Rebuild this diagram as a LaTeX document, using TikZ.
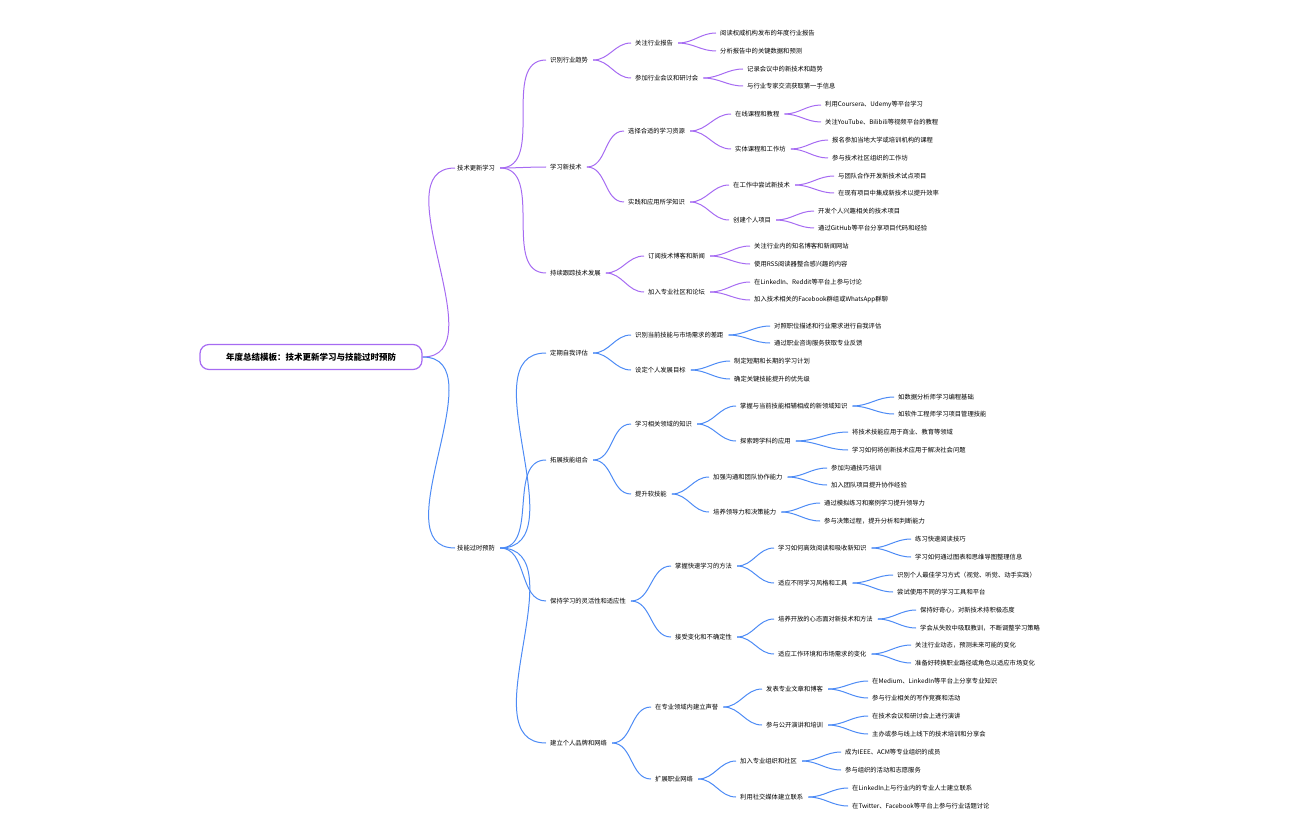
\documentclass[tikz,border=0pt]{standalone}
\usepackage{fontspec}
\setmainfont{Noto Sans CJK SC}
\usepackage{tikz}
\definecolor{upc}{HTML}{A66BF2}
\definecolor{loc}{HTML}{4D8BF5}
\tikzset{
  t/.style={anchor=west,inner sep=2pt,font=\fontsize{6.3}{7}\selectfont},
  pl/.style={upc,line width=1pt},
  bl/.style={loc,line width=1pt},
}
\begin{document}
\begin{tikzpicture}[x=1pt,y=-1pt]
  \useasboundingbox (0,0) rectangle (1296,840);
  \node[draw=upc,line width=1.2pt,rounded corners=9pt,minimum width=222pt,minimum height=25pt,
    font=\fontsize{8.5}{10}\selectfont\bfseries] (r) at (311,357) {年度总结模板：技术更新学习与技能过时预防};

  % level 1
  \node[t] (a) at (455,168) {技术更新学习};
  \node[t] (b) at (455,548) {技能过时预防};

  % level 2
  \node[t] (a1) at (548,60) {识别行业趋势};
  \node[t] (a2) at (548,167) {学习新技术};
  \node[t] (a3) at (548,273) {持续跟踪技术发展};
  \node[t] (b1) at (548,353) {定期自我评估};
  \node[t] (b2) at (548,460) {拓展技能组合};
  \node[t] (b3) at (548,601) {保持学习的灵活性和适应性};
  \node[t] (b4) at (548,743) {建立个人品牌和网络};

  % level 3
  \node[t] (a11) at (633,43) {关注行业报告};
  \node[t] (a12) at (633,78) {参加行业会议和研讨会};
  \node[t] (a21) at (626,131) {选择合适的学习资源};
  \node[t] (a22) at (626,202) {实践和应用所学知识};
  \node[t] (a31) at (646,256) {订阅技术博客和新闻};
  \node[t] (a32) at (646,292) {加入专业社区和论坛};
  \node[t] (b11) at (633,335) {识别当前技能与市场需求的差距};
  \node[t] (b12) at (633,370) {设定个人发展目标};
  \node[t] (b21) at (633,424) {学习相关领域的知识};
  \node[t] (b22) at (633,494) {提升软技能};
  \node[t] (b31) at (673,566) {掌握快速学习的方法};
  \node[t] (b32) at (673,637) {接受变化和不确定性};
  \node[t] (b41) at (653,707) {在专业领域内建立声誉};
  \node[t] (b42) at (653,779) {扩展职业网络};

  % level 4
  \node[t] (a211) at (733,114) {在线课程和教程};
  \node[t] (a212) at (733,149) {实体课程和工作坊};
  \node[t] (a221) at (731,185) {在工作中尝试新技术};
  \node[t] (a222) at (731,220) {创建个人项目};
  \node[t] (b211) at (738,406) {掌握与当前技能相辅相成的新领域知识};
  \node[t] (b212) at (738,441) {探索跨学科的应用};
  \node[t] (b221) at (711,477) {加强沟通和团队协作能力};
  \node[t] (b222) at (711,512) {培养领导力和决策能力};
  \node[t] (b311) at (776,548) {学习如何高效阅读和吸收新知识};
  \node[t] (b312) at (776,583) {适应不同学习风格和工具};
  \node[t] (b321) at (776,619) {培养开放的心态面对新技术和方法};
  \node[t] (b322) at (776,654) {适应工作环境和市场需求的变化};
  \node[t] (b411) at (764,689) {发表专业文章和博客};
  \node[t] (b412) at (764,725) {参与公开演讲和培训};
  \node[t] (b421) at (738,761) {加入专业组织和社区};
  \node[t] (b422) at (738,797) {利用社交媒体建立联系};

  % leaves
  \node[t] (a111) at (718,33) {阅读权威机构发布的年度行业报告};
  \node[t] (a112) at (718,51) {分析报告中的关键数据和预测};
  \node[t] (a121) at (745,69) {记录会议中的新技术和趋势};
  \node[t] (a122) at (745,86) {与行业专家交流获取第一手信息};
  \node[t] (a2111) at (823,105) {利用Coursera、Udemy等平台学习};
  \node[t] (a2112) at (823,122) {关注YouTube、Bilibili等视频平台的教程};
  \node[t] (a2121) at (830,140) {报名参加当地大学或培训机构的课程};
  \node[t] (a2122) at (830,158) {参与技术社区组织的工作坊};
  \node[t] (a2211) at (836,176) {与团队合作开发新技术试点项目};
  \node[t] (a2212) at (836,193) {在现有项目中集成新技术以提升效率};
  \node[t] (a2221) at (816,211) {开发个人兴趣相关的技术项目};
  \node[t] (a2222) at (816,228) {通过GitHub等平台分享项目代码和经验};
  \node[t] (a311) at (752,246) {关注行业内的知名博客和新闻网站};
  \node[t] (a312) at (752,264) {使用RSS阅读器整合感兴趣的内容};
  \node[t] (a321) at (752,282) {在LinkedIn、Reddit等平台上参与讨论};
  \node[t] (a322) at (752,300) {加入技术相关的Facebook群组或WhatsApp群聊};
  \node[t] (b111) at (772,326) {对照职位描述和行业需求进行自我评估};
  \node[t] (b112) at (772,343) {通过职业咨询服务获取专业反馈};
  \node[t] (b121) at (732,361) {制定短期和长期的学习计划};
  \node[t] (b122) at (732,379) {确定关键技能提升的优先级};
  \node[t] (b2111) at (896,397) {如数据分析师学习编程基础};
  \node[t] (b2112) at (896,414) {如软件工程师学习项目管理技能};
  \node[t] (b2121) at (850,432) {将技术技能应用于商业、教育等领域};
  \node[t] (b2122) at (850,450) {学习如何将创新技术应用于解决社会问题};
  \node[t] (b2211) at (829,468) {参加沟通技巧培训};
  \node[t] (b2212) at (829,485) {加入团队项目提升协作经验};
  \node[t] (b2221) at (822,503) {通过模拟练习和案例学习提升领导力};
  \node[t] (b2222) at (822,521) {参与决策过程，提升分析和判断能力};
  \node[t] (b3111) at (913,539) {练习快速阅读技巧};
  \node[t] (b3112) at (913,557) {学习如何通过图表和思维导图整理信息};
  \node[t] (b3121) at (895,575) {识别个人最佳学习方式（视觉、听觉、动手实践）};
  \node[t] (b3122) at (895,592) {尝试使用不同的学习工具和平台};
  \node[t] (b3211) at (918,610) {保持好奇心，对新技术持积极态度};
  \node[t] (b3212) at (918,628) {学会从失败中吸取教训，不断调整学习策略};
  \node[t] (b3221) at (913,645) {关注行业动态，预测未来可能的变化};
  \node[t] (b3222) at (913,663) {准备好转换职业路径或角色以适应市场变化};
  \node[t] (b4111) at (870,681) {在Medium、LinkedIn等平台上分享专业知识};
  \node[t] (b4112) at (870,698) {参与行业相关的写作竞赛和活动};
  \node[t] (b4121) at (870,716) {在技术会议和研讨会上进行演讲};
  \node[t] (b4122) at (870,734) {主办或参与线上线下的技术培训和分享会};
  \node[t] (b4211) at (843,752) {成为IEEE、ACM等专业组织的成员};
  \node[t] (b4212) at (843,770) {参与组织的活动和志愿服务};
  \node[t] (b4221) at (850,788) {在LinkedIn上与行业内的专业人士建立联系};
  \node[t] (b4222) at (850,806) {在Twitter、Facebook等平台上参与行业话题讨论};

  % connectors
  \draw[pl] (r.east) to[out=0,in=180] (a.west);
  \draw[bl] (r.east) to[out=0,in=180] (b.west);
  \foreach \p/\c in {a/a1,a/a2,a/a3,a1/a11,a1/a12,a2/a21,a2/a22,a3/a31,a3/a32,
      a11/a111,a11/a112,a12/a121,a12/a122,a21/a211,a21/a212,a22/a221,a22/a222,
      a211/a2111,a211/a2112,a212/a2121,a212/a2122,a221/a2211,a221/a2212,
      a222/a2221,a222/a2222,a31/a311,a31/a312,a32/a321,a32/a322}
    \draw[pl] ([xshift=3pt]\p.east) to[out=0,in=180] ([xshift=-2pt]\c.west);
  \foreach \p/\c in {b/b1,b/b2,b/b3,b/b4,b1/b11,b1/b12,b2/b21,b2/b22,b3/b31,b3/b32,
      b4/b41,b4/b42,b11/b111,b11/b112,b12/b121,b12/b122,b21/b211,b21/b212,
      b22/b221,b22/b222,b31/b311,b31/b312,b32/b321,b32/b322,b41/b411,b41/b412,
      b42/b421,b42/b422,b211/b2111,b211/b2112,b212/b2121,b212/b2122,
      b221/b2211,b221/b2212,b222/b2221,b222/b2222,b311/b3111,b311/b3112,
      b312/b3121,b312/b3122,b321/b3211,b321/b3212,b322/b3221,b322/b3222,
      b411/b4111,b411/b4112,b412/b4121,b412/b4122,b421/b4211,b421/b4212,
      b422/b4221,b422/b4222}
    \draw[bl] ([xshift=3pt]\p.east) to[out=0,in=180] ([xshift=-2pt]\c.west);
\end{tikzpicture}
\end{document}
